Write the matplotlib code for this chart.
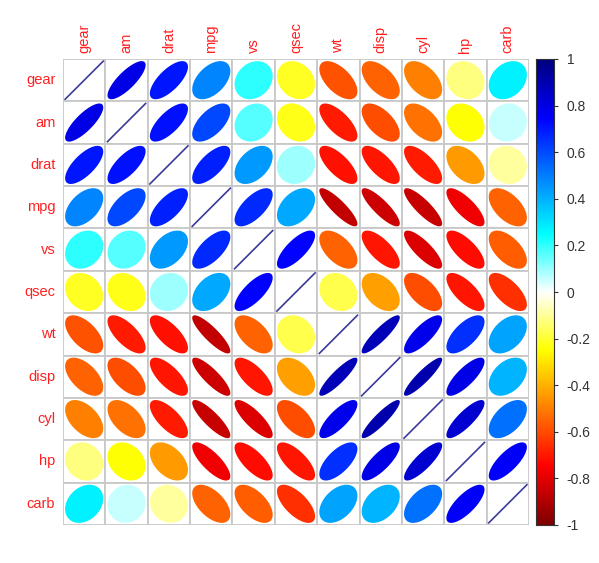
import numpy as np
import matplotlib
matplotlib.use("Agg")
import matplotlib.pyplot as plt
from matplotlib.colors import LinearSegmentedColormap
from matplotlib.patches import Polygon, Rectangle

variables = ["gear", "am", "drat", "mpg", "vs", "qsec", "wt", "disp", "cyl", "hp", "carb"]

# upper-triangle pairwise correlations (mtcars)
pairs = {
    ("mpg", "cyl"): -0.852, ("mpg", "disp"): -0.848, ("mpg", "hp"): -0.776, ("mpg", "drat"): 0.681,
    ("mpg", "wt"): -0.868, ("mpg", "qsec"): 0.419, ("mpg", "vs"): 0.664, ("mpg", "am"): 0.600,
    ("mpg", "gear"): 0.480, ("mpg", "carb"): -0.551,
    ("cyl", "disp"): 0.902, ("cyl", "hp"): 0.832, ("cyl", "drat"): -0.700, ("cyl", "wt"): 0.782,
    ("cyl", "qsec"): -0.591, ("cyl", "vs"): -0.811, ("cyl", "am"): -0.523, ("cyl", "gear"): -0.493,
    ("cyl", "carb"): 0.527,
    ("disp", "hp"): 0.791, ("disp", "drat"): -0.710, ("disp", "wt"): 0.888, ("disp", "qsec"): -0.434,
    ("disp", "vs"): -0.710, ("disp", "am"): -0.591, ("disp", "gear"): -0.556, ("disp", "carb"): 0.395,
    ("hp", "drat"): -0.449, ("hp", "wt"): 0.659, ("hp", "qsec"): -0.708, ("hp", "vs"): -0.723,
    ("hp", "am"): -0.243, ("hp", "gear"): -0.126, ("hp", "carb"): 0.750,
    ("drat", "wt"): -0.712, ("drat", "qsec"): 0.091, ("drat", "vs"): 0.440, ("drat", "am"): 0.713,
    ("drat", "gear"): 0.700, ("drat", "carb"): -0.091,
    ("wt", "qsec"): -0.175, ("wt", "vs"): -0.555, ("wt", "am"): -0.692, ("wt", "gear"): -0.583,
    ("wt", "carb"): 0.428,
    ("qsec", "vs"): 0.745, ("qsec", "am"): -0.230, ("qsec", "gear"): -0.213, ("qsec", "carb"): -0.656,
    ("vs", "am"): 0.168, ("vs", "gear"): 0.206, ("vs", "carb"): -0.570,
    ("am", "gear"): 0.794, ("am", "carb"): 0.058,
    ("gear", "carb"): 0.274,
}

n = len(variables)
corr = np.eye(n)
for (a, b), v in pairs.items():
    i, j = variables.index(a), variables.index(b)
    corr[i, j] = v
    corr[j, i] = v

palette = ["#7F0000", "red", "#FF7F00", "yellow", "white", "cyan", "#007FFF", "blue", "#00007F"]
cmap = LinearSegmentedColormap.from_list("col1", palette, N=200)

plt.rcParams['font.family'] = ['Liberation Sans', 'DejaVu Sans']
W, H = 599, 563
fig = plt.figure(figsize=(W / 100, H / 100), dpi=100)
fig.patch.set_facecolor("white")

gl, gr, gt, gb = 63, 529, 59, 525
ax = fig.add_axes([gl / W, 1 - gb / H, (gr - gl) / W, (gb - gt) / H])
ax.set_xlim(0.5, n + 0.5)
ax.set_ylim(0.5, n + 0.5)
ax.axis("off")

scale = 0.9
k = np.linspace(0, 2 * np.pi, 99)
for i in range(n):
    for j in range(n):
        cx = j + 1
        cy = n - i
        rho = corr[i, j]
        ax.add_patch(Rectangle((cx - 0.5, cy - 0.5), 1, 1, facecolor="white",
                               edgecolor="#C8C8C8", lw=1.3, zorder=1))
        if i == j:
            d = scale * 0.5
            ax.plot([cx - d, cx + d], [cy - d, cy + d], color="#3A3A9A", lw=1.2, zorder=3)
        else:
            a = np.arccos(np.clip(rho, -1, 1))
            x = scale * np.cos(k + a / 2) / 2
            y = scale * np.cos(k - a / 2) / 2
            ax.add_patch(Polygon(np.column_stack([x + cx, y + cy]), closed=True,
                                 facecolor=cmap((rho + 1) / 2), edgecolor="none", zorder=2))

for j, name in enumerate(variables):
    ax.text(j + 1, n + 0.64, name, rotation=90, ha="center", va="bottom",
            color="#FF2020", fontsize=10.5)
for i, name in enumerate(variables):
    ax.text(0.32, n - i, name, ha="right", va="center", color="#FF2020", fontsize=10.5)

# colorbar
cl, cr = 536, 554
cax = fig.add_axes([cl / W, 1 - gb / H, (cr - cl) / W, (gb - gt) / H])
grad = np.linspace(-1, 1, 400).reshape(-1, 1)
cax.imshow(grad, aspect="auto", cmap=cmap, origin="lower", extent=[0, 1, -1, 1],
           vmin=-1, vmax=1)
cax.set_xticks([])
ticks = np.round(np.arange(-1, 1.01, 0.2), 1)
cax.set_yticks(ticks)
cax.set_yticklabels([("%g" % t) if abs(t) > 1e-9 else "0" for t in ticks])
cax.yaxis.tick_right()
cax.tick_params(axis="y", length=3, width=0.8, colors="#333333", labelsize=10, pad=6)
for s in cax.spines.values():
    s.set_linewidth(0.8)
    s.set_color("#333333")

fig.savefig("out.png", dpi=100, facecolor="white")
